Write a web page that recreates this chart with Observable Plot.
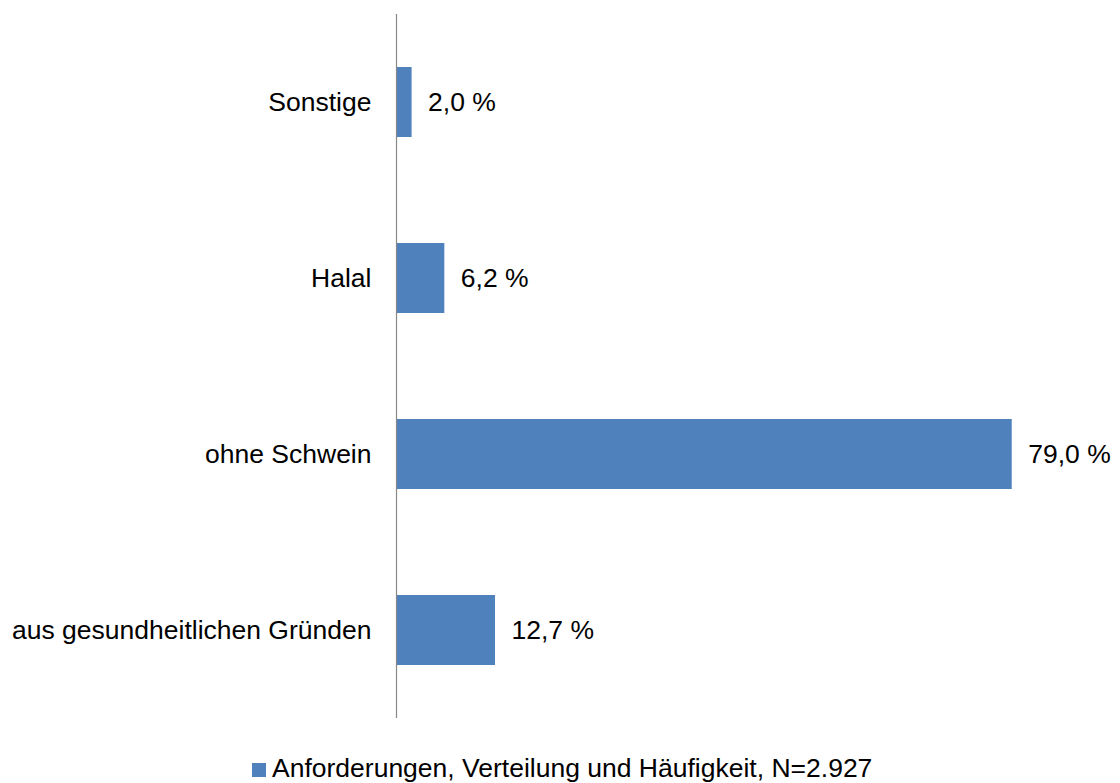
<!DOCTYPE html>
<html>
<head>
<meta charset="utf-8">
<script src="https://cdn.jsdelivr.net/npm/d3@7"></script>
<script src="https://cdn.jsdelivr.net/npm/@observablehq/plot@0.6"></script>
<style>
  html, body { margin: 0; padding: 0; background: #fff; }
  body { width: 1120px; height: 783px; overflow: hidden; font-family: "Liberation Sans", Arial, sans-serif; }
  #legend { height: 30px; line-height: 30px; font-size: 26.5px; color: #000; text-align: left; padding-left: 252px; white-space: nowrap; }
  #legend .sw { display: inline-block; width: 14px; height: 14px; background: #4F81BD; margin-right: 6px; vertical-align: baseline; position: relative; top: 0px; }
</style>
</head>
<body>
<div id="chart"></div>
<div id="legend"><span class="sw"></span>Anforderungen, Verteilung und Häufigkeit, N=2.927</div>
<script>
const categories = ["Sonstige", "Halal", "ohne Schwein", "aus gesundheitlichen Gründen"];
const values = [2.0, 6.2, 79.0, 12.7];
const seriesName = "Anforderungen, Verteilung und Häufigkeit, N=2.927";

const data = categories.map((c, i) => ({category: c, value: values[i]}));
const fmt = v => v.toFixed(1).replace(".", ",") + " %";

const chart = Plot.plot({
  width: 1120,
  height: 753,
  marginTop: 14,
  marginBottom: 35,
  marginLeft: 396,
  marginRight: 0,
  style: {fontFamily: "'Liberation Sans', Arial, sans-serif", fontSize: "26.5px", color: "#000", background: "#fff"},
  x: {domain: [0, 90], range: [396, 396 + 90 * 7.794], axis: null},
  y: {domain: categories, paddingInner: 0.6, paddingOuter: 0.3, label: null},
  marks: [
    Plot.barX(data, {x: "value", y: "category", fill: "#4F81BD"}),
    Plot.ruleX([0], {stroke: "#888888", strokeWidth: 1.2}),
    Plot.axisY({tickSize: 0, tickPadding: 25, label: null, fontSize: 26.5, fill: "#000"}),
    Plot.text(data, {x: "value", y: "category", text: d => fmt(d.value), textAnchor: "start", dx: 16, fontSize: 26.5, fill: "#000"})
  ]
});
document.getElementById("chart").appendChild(chart);
</script>
</body>
</html>
